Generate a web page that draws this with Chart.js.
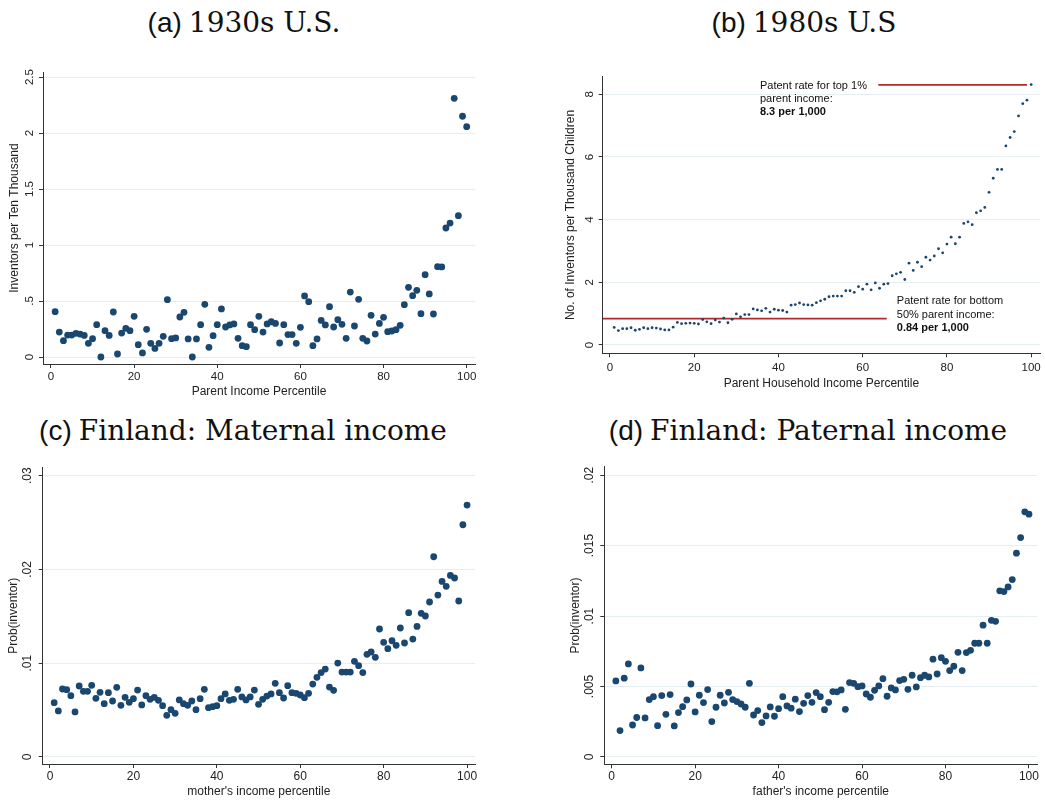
<!DOCTYPE html>
<html><head><meta charset="utf-8">
<script src="https://cdn.jsdelivr.net/npm/chart.js@4.4.0/dist/chart.umd.min.js"></script>
<style>
body{margin:0;width:1045px;height:805px;background:#fff;position:relative;overflow:hidden}
canvas{position:absolute}
.title{position:absolute;width:520px;text-align:center;font-size:28px;line-height:34px;color:#111;white-space:nowrap}
.sans{font-family:"Liberation Sans",Arial,sans-serif}
.serif{font-family:"DejaVu Serif",serif}
</style></head><body>
<div class="title" style="left:-16px;top:6px"><span class="sans">(a)</span> <span class="serif">1930s U.S.</span></div>
<div class="title" style="left:544px;top:6px"><span class="sans">(b)</span> <span class="serif">1980s U.S</span></div>
<div class="title" style="left:-17px;top:414px"><span class="sans">(c)</span> <span class="serif">Finland: Maternal income</span></div>
<div class="title" style="left:548px;top:414px"><span class="sans">(d)</span> <span class="serif">Finland: Paternal income</span></div>
<canvas id="ca" width="490" height="350" style="left:0;top:55px"></canvas>
<canvas id="cb" width="505" height="350" style="left:540px;top:55px"></canvas>
<canvas id="cc" width="490" height="350" style="left:0;top:455px"></canvas>
<canvas id="cd" width="505" height="350" style="left:540px;top:455px"></canvas>
<script>
// ---------- data ----------
const percentiles = [1,2,3,4,5,6,7,8,9,10,11,12,13,14,15,16,17,18,19,20,21,22,23,24,25,26,27,28,29,30,31,32,33,34,35,36,37,38,39,40,41,42,43,44,45,46,47,48,49,50,51,52,53,54,55,56,57,58,59,60,61,62,63,64,65,66,67,68,69,70,71,72,73,74,75,76,77,78,79,80,81,82,83,84,85,86,87,88,89,90,91,92,93,94,95,96,97,98,99,100];

const inventors1930s = [0.405,0.223,0.146,0.196,0.196,0.211,0.205,0.193,0.122,0.164,
0.289,0.0,0.235,0.193,0.402,0.027,0.214,0.256,0.235,0.363,
0.11,0.036,0.247,0.122,0.077,0.122,0.185,0.512,0.164,0.17,
0.357,0.399,0.161,0.0,0.161,0.289,0.47,0.086,0.19,0.289,
0.429,0.268,0.286,0.295,0.167,0.101,0.092,0.289,0.244,0.363,
0.223,0.295,0.315,0.30,0.125,0.289,0.2,0.2,0.122,0.265,
0.545,0.494,0.101,0.161,0.327,0.286,0.449,0.268,0.333,0.292,
0.167,0.58,0.277,0.515,0.167,0.143,0.372,0.205,0.30,0.354,
0.226,0.232,0.244,0.283,0.467,0.622,0.548,0.595,0.387,0.735,
0.563,0.384,0.807,0.804,1.152,1.196,2.31,1.262,2.15,2.057];

const inventors1980s = [0.56,0.46,0.52,0.52,0.55,0.47,0.50,0.55,0.52,0.55,
0.54,0.51,0.48,0.48,0.57,0.72,0.68,0.69,0.70,0.69,
0.67,0.81,0.74,0.68,0.80,0.73,0.86,0.71,0.82,0.99,
0.90,0.97,0.97,1.15,1.12,1.09,1.17,1.05,1.14,1.11,
1.10,1.05,1.27,1.29,1.34,1.29,1.28,1.27,1.35,1.41,
1.46,1.54,1.56,1.56,1.56,1.73,1.73,1.68,1.86,1.78,
1.94,1.76,1.98,1.81,1.94,1.96,2.21,2.27,2.32,2.09,
2.61,2.38,2.64,2.50,2.80,2.71,2.84,3.07,2.94,3.22,
3.44,3.23,3.44,3.88,3.93,3.84,4.22,4.28,4.39,4.87,
5.32,5.60,5.60,6.35,6.62,6.81,7.31,7.70,7.81,8.31];

const probMother = [.00579,.00491,.00725,.00718,.00654,.0048,.00757,.0070,.0070,.00764,
.00626,.0069,.00569,.00686,.00597,.00743,.00551,.00636,.00583,.00622,
.00714,.00555,.00654,.00615,.00636,.00604,.00547,.00444,.00505,.00466,
.00608,.00569,.00551,.00597,.00505,.00622,.00722,.00526,.00537,.00547,
.00622,.00672,.00604,.00615,.00722,.0064,.00608,.0064,.00714,.00562,
.00615,.0065,.00672,.00786,.00686,.00629,.00761,.00686,.00679,.00661,
.00633,.00679,.00778,.0085,.009,.00938,.00746,.00711,.01002,.00906,
.00906,.00906,.0102,.00974,.009,.01095,.0112,.01063,.01365,.01223,
.01155,.0124,.01191,.01376,.01216,.01539,.01258,.01393,.01532,.01504,
.01653,.02136,.01727,.01873,.0182,.01937,.01909,.01664,.02477,.02687];

const probFather = [.0054,.00187,.00559,.0066,.00227,.0028,.00632,.00277,.00407,.00428,
.00222,.00436,.00303,.00443,.0022,.00315,.00357,.00405,.00518,.0032,
.00438,.00386,.00478,.00251,.00353,.00438,.00383,.00459,.00407,.00393,
.00376,.00353,.00523,.00298,.00329,.00244,.00291,.00355,.00289,.00343,
.00428,.00362,.00346,.0041,.00322,.00381,.00436,.00388,.00457,.00428,
.00336,.00388,.00464,.00462,.00476,.00338,.00528,.00523,.00499,.00504,
.00447,.00424,.00473,.00504,.00556,.00431,.0049,.00476,.00542,.00551,
.0048,.0058,.00497,.00563,.0058,.00568,.00694,.00589,.00705,.00679,
.00613,.00644,.00743,.00613,.00741,.00757,.00807,.00807,.00935,.00807,
.0097,.00963,.01179,.01174,.01207,.01259,.01446,.01557,.0174,.01723];

const xTicks = [0,20,40,60,80,100];
const yTicksA = [0,0.5,1,1.5,2,2.5];
const yLabelsA = ["0",".5","1","1.5","2","2.5"];
const yTicksB = [0,2,4,6,8];
const yLabelsB = ["0","2","4","6","8"];
const yTicksC = [0,0.01,0.02,0.03];
const yLabelsC = ["0",".01",".02",".03"];
const yTicksD = [0,0.005,0.01,0.015,0.02];
const yLabelsD = ["0",".005",".01",".015",".02"];

// reference lines in panel (b): [x start, x end] at a rate
const top1Rate = 8.3;
const top1LineX = [63.7, 99];
const bottom50Rate = 0.84;
const bottom50LineX = [-1.73, 65.7];
const top1Note = ["Patent rate for top 1%", "parent income:", "8.3 per 1,000"];
const bottom50Note = ["Patent rate for bottom", "50% parent income:", "0.84 per 1,000"];

// ---------- styling ----------
const DOT = '#1a476f';
const TEXT = '#222';
const AXIS = '#333';
const GRID = '#e6eef1';
const RED = '#b3282d';
const SANS = '"Liberation Sans", Arial, sans-serif';

const yLabelPlugin = {
  id: 'ylabels',
  afterDraw(chart, args, o) {
    if (!o || !o.values) return;
    const s = chart.scales.y, ctx = chart.ctx;
    ctx.save();
    ctx.fillStyle = TEXT;
    ctx.font = o.size + 'px ' + SANS;
    ctx.textAlign = 'center';
    ctx.textBaseline = 'alphabetic';
    o.values.forEach((v, i) => {
      const y = s.getPixelForValue(v);
      ctx.save();
      ctx.translate(s.right - o.offset, y);
      ctx.rotate(-Math.PI / 2);
      ctx.fillText(o.labels[i], 0, 0);
      ctx.restore();
    });
    ctx.restore();
  }
};

const notePlugin = {
  id: 'notes',
  afterDatasetsDraw(chart, args, o) {
    if (!o || !o.items) return;
    const ctx = chart.ctx, xs = chart.scales.x, ys = chart.scales.y;
    ctx.save();
    ctx.fillStyle = '#111';
    ctx.textAlign = 'left';
    ctx.textBaseline = 'middle';
    o.items.forEach(it => {
      it.lines.forEach((t, i) => {
        ctx.font = (i === 2 ? 'bold ' : '') + o.size + 'px ' + SANS;
        ctx.fillText(t, xs.getPixelForValue(it.x), ys.getPixelForValue(it.y[i]));
      });
    });
    ctx.restore();
  }
};

function makePanel(id, c) {
  const lh = c.titleSize * 1.2;
  const canvasBottom = c.canvas.t + c.canvas.h;
  const datasets = [{
    type: 'scatter',
    data: percentiles.map((p, i) => ({x: p, y: c.values[i]})),
    backgroundColor: DOT, borderColor: DOT, borderWidth: 0,
    pointRadius: c.radius, pointHoverRadius: c.radius
  }].concat(c.extra || []);
  new Chart(document.getElementById(id), {
    type: 'scatter',
    data: {datasets},
    plugins: [yLabelPlugin, notePlugin],
    options: {
      responsive: false, animation: false, events: [],
      layout: {padding: {top: c.area.t - c.canvas.t, right: c.canvas.l + c.canvas.w - c.area.r, left: 0, bottom: 0}},
      plugins: {
        legend: {display: false}, tooltip: {enabled: false},
        ylabels: {values: c.yTicks, labels: c.yLabels, size: c.tickSize, offset: c.yLabelOffset},
        notes: c.notes || {}
      },
      scales: {
        x: {
          type: 'linear', min: c.xMin, max: c.xMax,
          afterBuildTicks: a => { a.ticks = xTicks.map(v => ({value: v})); },
          afterFit: a => { a.height = canvasBottom - c.area.b; },
          grid: {drawOnChartArea: false, drawTicks: true, tickLength: 4, tickColor: AXIS, tickWidth: 1},
          border: {display: true, color: AXIS, width: 1},
          ticks: {color: TEXT, font: {family: SANS, size: c.tickSize}, padding: c.xTickPad, maxRotation: 0, autoSkip: false, callback: v => String(v)},
          title: {display: true, text: c.xTitle, color: TEXT, font: {family: SANS, size: c.titleSize}, padding: {top: 0, bottom: canvasBottom - c.xTitleY - lh / 2}}
        },
        y: {
          type: 'linear', min: c.yMin, max: c.yMax,
          afterBuildTicks: a => { a.ticks = c.yTicks.map(v => ({value: v})); },
          afterFit: a => { a.width = c.area.l - c.canvas.l; },
          grid: {color: GRID, lineWidth: 1, drawTicks: true, tickLength: 4, tickColor: AXIS, tickWidth: 1},
          border: {display: true, color: AXIS, width: 1},
          ticks: {display: false},
          title: {display: true, text: c.yTitle, color: TEXT, font: {family: SANS, size: c.titleSize}, padding: {top: c.yTitleX - c.canvas.l - lh / 2, bottom: 0}}
        }
      }
    }
  });
}

makePanel('ca', {
  canvas: {l: 0, t: 55, w: 490, h: 350},
  area: {l: 43, t: 72, r: 475, b: 364},
  values: inventors1930s, radius: 3.4,
  xMin: -1.92, xMax: 102.0, yMin: -0.0625, yMax: 2.545,
  yTicks: yTicksA, yLabels: yLabelsA, yLabelOffset: 9.7,
  tickSize: 11.5, titleSize: 12, xTickPad: 1.8,
  xTitle: 'Parent Income Percentile', xTitleY: 391.7,
  yTitle: 'Inventors per Ten Thousand', yTitleX: 15
});

makePanel('cb', {
  canvas: {l: 540, t: 55, w: 505, h: 350},
  area: {l: 602.7, t: 76.7, r: 1040, b: 353.3},
  values: inventors1980s, radius: 1.4,
  xMin: -1.73, xMax: 102.1, yMin: -0.265, yMax: 8.56,
  yTicks: yTicksB, yLabels: yLabelsB, yLabelOffset: 9.4,
  tickSize: 11.5, titleSize: 12, xTickPad: 4,
  xTitle: 'Parent Household Income Percentile', xTitleY: 383.3,
  yTitle: 'No. of Inventors per Thousand Children', yTitleX: 571,
  extra: [
    {type: 'line', data: top1LineX.map(x => ({x, y: top1Rate})), borderColor: RED, borderWidth: 1.8, pointRadius: 0},
    {type: 'line', data: bottom50LineX.map(x => ({x, y: bottom50Rate})), borderColor: RED, borderWidth: 1.8, pointRadius: 0}
  ],
  notes: {size: 11, items: [
    {x: 35.6, y: [8.27, 7.85, 7.44], lines: top1Note},
    {x: 68.1, y: [1.395, 0.957, 0.533], lines: bottom50Note}
  ]}
});

makePanel('cc', {
  canvas: {l: 0, t: 455, w: 490, h: 350},
  area: {l: 42.7, t: 467.3, r: 475, b: 764},
  values: probMother, radius: 3.4,
  xMin: -1.75, xMax: 101.9, yMin: -0.00075, yMax: 0.0309,
  yTicks: yTicksC, yLabels: yLabelsC, yLabelOffset: 12,
  tickSize: 12, titleSize: 12, xTickPad: 1.5,
  xTitle: "mother's income percentile", xTitleY: 791.7,
  yTitle: 'Prob(inventor)', yTitleX: 14
});

makePanel('cd', {
  canvas: {l: 540, t: 455, w: 505, h: 350},
  area: {l: 604.3, t: 466.7, r: 1037.3, b: 764.3},
  values: probFather, radius: 3.4,
  xMin: -1.77, xMax: 102.0, yMin: -0.00052, yMax: 0.0206,
  yTicks: yTicksD, yLabels: yLabelsD, yLabelOffset: 11,
  tickSize: 12, titleSize: 12, xTickPad: 1.2,
  xTitle: "father's income percentile", xTitleY: 791.7,
  yTitle: 'Prob(inventor)', yTitleX: 576
});
</script>
</body></html>
